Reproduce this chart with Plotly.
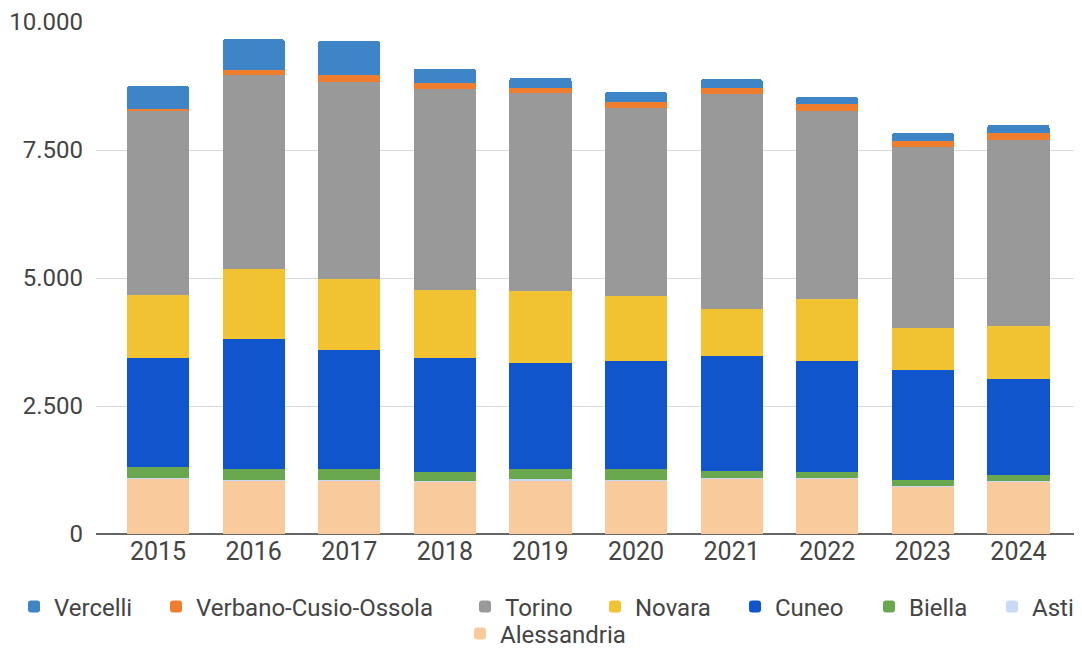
import plotly.graph_objects as go

years = ["2015", "2016", "2017", "2018", "2019", "2020", "2021", "2022", "2023", "2024"]

alessandria = [1086, 1053, 1053, 1020, 1045, 1053, 1086, 1086, 935, 1020]
asti = [10, 10, 10, 10, 25, 10, 10, 10, 10, 10]
biella = [204, 198, 198, 172, 191, 198, 132, 106, 108, 120]
cuneo = [2144, 2554, 2326, 2242, 2079, 2111, 2248, 2170, 2144, 1885]
novara = [1228, 1364, 1384, 1326, 1403, 1274, 923, 1222, 825, 1019]
torino = [3588, 3782, 3866, 3930, 3867, 3672, 4191, 3671, 3528, 3646]
vco = [40, 103, 124, 117, 110, 128, 130, 143, 117, 130]
vercelli = [452, 598, 669, 273, 195, 196, 163, 130, 163, 162]

series = [
    ("Alessandria", alessandria, "#f9cb9c"),
    ("Asti", asti, "#c9daf8"),
    ("Biella", biella, "#6aa84f"),
    ("Cuneo", cuneo, "#1155cc"),
    ("Novara", novara, "#f1c232"),
    ("Torino", torino, "#999999"),
    ("Verbano-Cusio-Ossola", vco, "#ef7d2d"),
    ("Vercelli", vercelli, "#3d85c6"),
]

# legend text start (page px) and row for each entry
legend_pos = {
    "Vercelli": (54, 0), "Verbano-Cusio-Ossola": (196, 0), "Torino": (505, 0),
    "Novara": (635, 0), "Cuneo": (775, 0), "Biella": (909, 0), "Asti": (1032, 0),
    "Alessandria": (500, 1),
}
row_center = [607, 634]  # page px

yticks = [0, 2500, 5000, 7500, 10000]

W, H = 1074, 650   # page has an 8px body margin
OFF = 8
TEXT_OFF = 40

font_color = "#444444"
fs_x = 25
fs_y = 24
fs_leg = 24

fig = go.Figure()
legends = {}
for i, (name, vals, color) in enumerate(series):
    key = f"legend{i+2}"
    fig.add_trace(go.Bar(
        x=years, y=vals, name=name, legend=key,
        marker=dict(color=color, line=dict(width=0)),
    ))
    tx, row = legend_pos[name]
    legends[key] = dict(
        orientation="h",
        xref="container", yref="container",
        x=(tx - OFF - TEXT_OFF) / W, xanchor="left",
        y=(H - (row_center[row] - OFF)) / H, yanchor="middle",
        bgcolor="rgba(0,0,0,0)",
        font=dict(size=fs_leg, color=font_color),
    )

fig.update_layout(
    width=W, height=H,
    barmode="stack",
    bargap=0.35,
    barcornerradius=3,
    separators=",.",
    paper_bgcolor="white",
    plot_bgcolor="white",
    font=dict(family="Roboto, Arial, sans-serif", size=fs_x, color=font_color),
    margin=dict(l=88, r=0, t=14, b=H - (534 - OFF), autoexpand=False),
    showlegend=True,
    xaxis=dict(
        type="category",
        range=[-0.649, 9.665],
        showgrid=False,
        showline=False,
        ticks="",
        tickfont=dict(size=fs_x, color=font_color),
    ),
    yaxis=dict(
        range=[0, 10000],
        tickvals=yticks,
        tickformat=",d",
        showgrid=True,
        gridcolor="#d9d9d9",
        gridwidth=1,
        zeroline=True,
        zerolinecolor="#666666",
        zerolinewidth=2,
        ticks="",
        ticklabelstandoff=12,
        ticklabeloverflow="allow",
        tickfont=dict(size=fs_y, color=font_color),
    ),
    **legends,
)

fig.write_html("out.html")
